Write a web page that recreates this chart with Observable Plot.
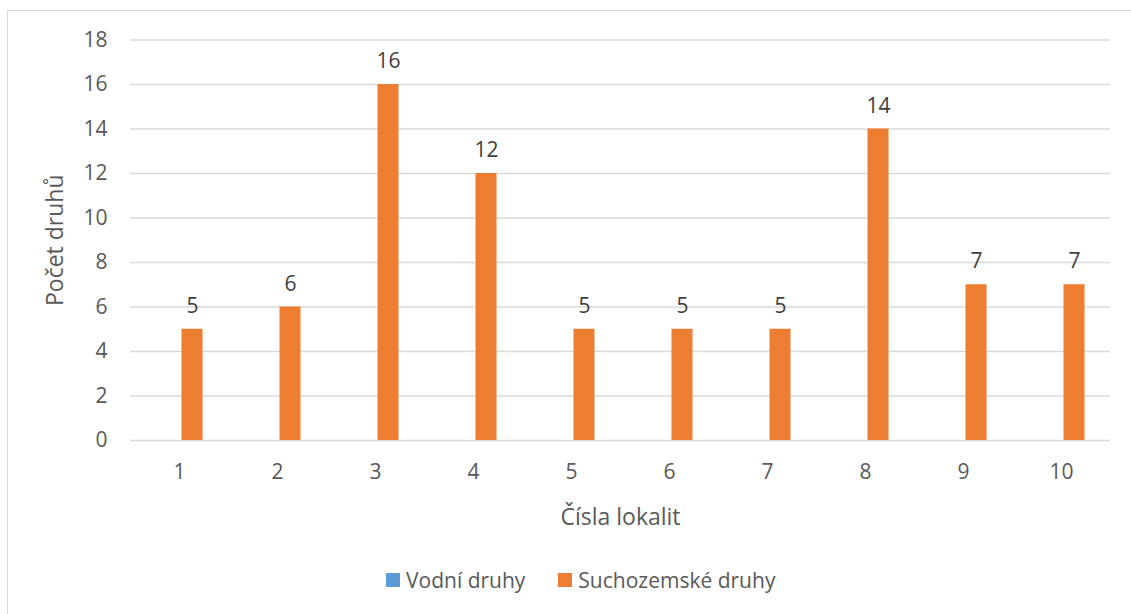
<!DOCTYPE html>
<html>
<head>
<meta charset="utf-8">
<script src="https://cdn.jsdelivr.net/npm/d3@7"></script>
<script src="https://cdn.jsdelivr.net/npm/@observablehq/plot@0.6"></script>
<style>
  html, body { margin: 0; padding: 0; background: #fff; }
  #chart { position: relative; width: 1131px; height: 614px; overflow: hidden; font-family: "Open Sans", sans-serif; }
  #frame { position: absolute; left: 6.5px; top: 9.5px; width: 1200px; height: 700px;
           border-left: 1.5px solid #d9d9d9; border-top: 1.5px solid #d9d9d9; box-sizing: border-box; }
  #plot { position: absolute; left: 0; top: 0; }
  #legend { position: absolute; left: 386px; top: 566px; display: flex; align-items: center;
            font-size: 21px; color: #595959; white-space: nowrap; }
  #legend .item { display: flex; align-items: center; margin-right: 33px; }
  #legend .sw { width: 14px; height: 14px; margin-right: 6px; }
  g[aria-label="y-axis label"] text, g[aria-label="fx-axis label"] text { font-size: 23px; }
</style>
</head>
<body>
<div id="chart">
  <div id="frame"></div>
  <div id="plot"></div>
  <div id="legend"></div>
</div>
<script>
// Locality numbers along the x axis
const lokality = ["1", "2", "3", "4", "5", "6", "7", "8", "9", "10"];
// Series names and colours
const serie = ["Vodní druhy", "Suchozemské druhy"];
const barvy = ["#5B9BD5", "#ED7D31"];
// Species counts per locality
const vodniDruhy = [0, 0, 0, 0, 0, 0, 0, 0, 0, 0];
const suchozemskeDruhy = [5, 6, 16, 12, 5, 5, 5, 14, 7, 7];
// Value axis ticks
const yTicks = [0, 2, 4, 6, 8, 10, 12, 14, 16, 18];

const rows = lokality.flatMap((l, i) => [
  { lokalita: l, serie: serie[0], pocet: vodniDruhy[i] },
  { lokalita: l, serie: serie[1], pocet: suchozemskeDruhy[i] }
]);

const chart = Plot.plot({
  width: 1131,
  height: 614,
  marginLeft: 127.5,
  marginRight: 19.3,
  marginTop: 39.5,
  marginBottom: 174,
  style: { fontFamily: "Open Sans, sans-serif", fontSize: "21px", color: "#595959", background: "transparent", overflow: "visible" },
  fx: { domain: lokality, padding: 0, axis: "bottom", label: "Čísla lokalit", labelAnchor: "center",
        labelOffset: 84, tickSize: 0, tickPadding: 24 },
  x: { domain: serie, axis: null, paddingInner: 0.214, paddingOuter: 0.864 },
  y: { domain: [0, 18], ticks: yTicks, tickSize: 0, tickPadding: 23, label: "Počet druhů",
       labelAnchor: "center", labelOffset: 84, labelArrow: "none" },
  color: { domain: serie, range: barvy },
  marks: [
    Plot.gridY(yTicks, { stroke: "#d9d9d9", strokeOpacity: 1, strokeWidth: 1.5 }),
    Plot.barY(rows, { fx: "lokalita", x: "serie", y: "pocet", fill: "serie" }),
    Plot.text(rows.filter(d => d.serie === serie[1]), {
      fx: "lokalita", x: "serie", y: "pocet", text: d => String(d.pocet),
      dy: -23, lineAnchor: "middle", fill: "#404040", fontSize: 21
    })
  ]
});
document.getElementById("plot").appendChild(chart);

// Legend built from the same series names and colours
const legend = document.getElementById("legend");
serie.forEach((s, i) => {
  const item = document.createElement("div");
  item.className = "item";
  const sw = document.createElement("div");
  sw.className = "sw";
  sw.style.background = barvy[i];
  const label = document.createElement("span");
  label.textContent = s;
  item.appendChild(sw);
  item.appendChild(label);
  legend.appendChild(item);
});
</script>
</body>
</html>
